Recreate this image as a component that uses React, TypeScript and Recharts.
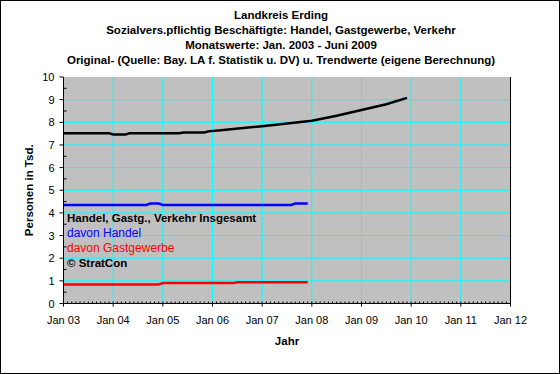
import React from "react";
import {
  LineChart,
  Line,
  XAxis,
  YAxis,
  ReferenceLine,
  ReferenceArea,
  Label,
} from "recharts";

// Month index: 0 = Jan 2003
const totalMonths = [0, 11, 12, 15, 16, 28, 29, 34, 35, 38, 41, 48, 54, 60, 66, 72, 78, 83];
const totalValues = [7.52, 7.52, 7.46, 7.46, 7.52, 7.52, 7.55, 7.55, 7.6, 7.65, 7.7, 7.83, 7.95, 8.07, 8.29, 8.54, 8.8, 9.08];

const handelMonths = [0, 20, 21, 23, 24, 55, 56, 59];
const handelValues = [4.35, 4.35, 4.41, 4.41, 4.35, 4.35, 4.41, 4.41];

const gastMonths = [0, 23, 24, 41, 42, 59];
const gastValues = [0.84, 0.84, 0.9, 0.9, 0.94, 0.94];

const xTickLabels = ["Jan 03", "Jan 04", "Jan 05", "Jan 06", "Jan 07", "Jan 08", "Jan 09", "Jan 10", "Jan 11", "Jan 12"];
const yMajorTicks = [0, 1, 2, 3, 4, 5, 6, 7, 8, 9, 10];
const yMinorTicks = [0.5, 1.5, 2.5, 3.5, 4.5, 5.5, 6.5, 7.5, 8.5, 9.5];
const xGridYears = [12, 24, 36, 48, 60, 72, 84, 96];
const yGridValues = [1, 2, 3, 4, 5, 6, 7, 8, 9];

const titleLines = [
  "Landkreis Erding",
  "Sozialvers.pflichtig Beschäftigte: Handel, Gastgewerbe, Verkehr",
  "Monatswerte: Jan. 2003 - Juni 2009",
  "Original- (Quelle: Bay. LA f. Statistik u. DV) u. Trendwerte (eigene Berechnung)",
];

const legendItems = [
  { text: "Handel, Gastg., Verkehr Insgesamt", color: "#000000", bold: true },
  { text: "davon Handel", color: "#0000ff", bold: false },
  { text: "davon Gastgewerbe", color: "#ff0000", bold: false },
  { text: "© StratCon", color: "#000000", bold: true },
];

const toData = (ms: number[], vs: number[]) => ms.map((m, i) => ({ m, v: vs[i] }));
const totalData = toData(totalMonths, totalValues);
const handelData = toData(handelMonths, handelValues);
const gastData = toData(gastMonths, gastValues);

const yTicks = [...yMajorTicks, ...yMinorTicks].sort((a, b) => a - b);
const xTicks = Array.from({ length: 109 }, (_, i) => i);

const FONT = "'Liberation Sans', Arial, sans-serif";

const LeftTick = (props: any) => {
  const { x, y, payload } = props;
  const v = payload.value;
  const major = Number.isInteger(v);
  return (
    <g>
      {major ? (
        <line x1={x - 4} x2={x} y1={y} y2={y} stroke="#000" />
      ) : (
        <line x1={x} x2={x + 3} y1={y} y2={y} stroke="#000" />
      )}
      {major && (
        <text x={x - 9} y={y} textAnchor="end" dominantBaseline="central" fontSize={11} fontFamily={FONT} fill="#000">
          {v}
        </text>
      )}
    </g>
  );
};

const RightTick = (props: any) => {
  const { x, y, payload } = props;
  const v = payload.value;
  const major = Number.isInteger(v);
  return (
    <g>
      {major ? (
        <line x1={x} x2={x + 4} y1={y} y2={y} stroke="#000" />
      ) : (
        <line x1={x - 3} x2={x} y1={y} y2={y} stroke="#000" />
      )}
      {major && (
        <text x={x + 7} y={y} textAnchor="start" dominantBaseline="central" fontSize={11} fontFamily={FONT} fill="#000">
          {v}
        </text>
      )}
    </g>
  );
};

const BottomTick = (props: any) => {
  const { x, y, payload } = props;
  const v = payload.value;
  const major = v % 12 === 0;
  return (
    <g>
      {major ? (
        <line x1={x} x2={x} y1={y - 2} y2={y + 3} stroke="#000" />
      ) : (
        <line x1={x} x2={x} y1={y - 2} y2={y} stroke="#000" />
      )}
      {major && (
        <text x={x} y={y + 16} textAnchor="middle" dominantBaseline="central" fontSize={11} fontFamily={FONT} fill="#000">
          {xTickLabels[v / 12]}
        </text>
      )}
    </g>
  );
};

export default function App() {
  return (
    <div style={{ position: "absolute", left: 0, top: 0, width: 560, height: 374, background: "#fff", fontFamily: FONT }}>
      <LineChart width={560} height={374} margin={{ top: 77, right: 0, bottom: 0, left: 0 }}>
        <XAxis
          dataKey="m"
          type="number"
          domain={[0, 108]}
          ticks={xTicks}
          interval={0}
          tickSize={0}
          tickMargin={0}
          tickLine={false}
          tick={<BottomTick />}
          height={70.5}
          axisLine={{ stroke: "#000" }}
          allowDataOverflow
        >
          <Label
            content={(p: any) => {
              const vb = p.viewBox || {};
              return (
                <text x={vb.x + vb.width / 2} y={vb.y + 37} textAnchor="middle" dominantBaseline="central" fontSize={11.5} fontWeight="bold" fontFamily={FONT} fill="#000">
                  Jahr
                </text>
              );
            }}
          />
        </XAxis>
        <YAxis
          yAxisId="left"
          orientation="left"
          type="number"
          domain={[0, 10]}
          ticks={yTicks}
          interval={0}
          width={63.5}
          tickSize={0}
          tickMargin={0}
          tickLine={false}
          tick={<LeftTick />}
          axisLine={{ stroke: "#000" }}
        >
          <Label
            content={(p: any) => {
              const vb = p.viewBox || {};
              const cx = vb.x + 29;
              const cy = vb.y + vb.height / 2;
              return (
                <text x={cx} y={cy} transform={`rotate(-90 ${cx} ${cy})`} textAnchor="middle" dominantBaseline="central" fontSize={11.5} fontWeight="bold" fontFamily={FONT} fill="#000">
                  Personen in Tsd.
                </text>
              );
            }}
          />
        </YAxis>
        <YAxis
          yAxisId="right"
          orientation="right"
          type="number"
          domain={[0, 10]}
          ticks={yTicks}
          interval={0}
          width={49.5}
          tickSize={0}
          tickMargin={0}
          tickLine={false}
          tick={<RightTick />}
          axisLine={{ stroke: "#000" }}
        />
        <ReferenceArea yAxisId="left" x1={0} x2={108} y1={0} y2={10} fill="#c0c0c0" fillOpacity={1} stroke="none" />
        {xGridYears.map((m) => (
          <ReferenceLine key={"vx" + m} yAxisId="left" x={m} stroke="#00ffff" strokeWidth={1} />
        ))}
        {yGridValues.map((v) => (
          <ReferenceLine key={"hy" + v} yAxisId="left" y={v} stroke="#00ffff" strokeWidth={1} />
        ))}
        <Line yAxisId="left" data={totalData} dataKey="v" type="linear" stroke="#000000" strokeWidth={2.5} dot={false} isAnimationActive={false} />
        <Line yAxisId="left" data={handelData} dataKey="v" type="linear" stroke="#0000ff" strokeWidth={2.5} dot={false} isAnimationActive={false} />
        <Line yAxisId="left" data={gastData} dataKey="v" type="linear" stroke="#ff0000" strokeWidth={2.5} dot={false} isAnimationActive={false} />
      </LineChart>

      {titleLines.map((t, i) => (
        <div
          key={t}
          style={{
            position: "absolute",
            left: 0,
            width: 562,
            top: 15 + i * 15 - 8,
            height: 16,
            lineHeight: "16px",
            textAlign: "center",
            fontSize: 11.5,
            fontWeight: "bold",
            color: "#000",
            whiteSpace: "nowrap",
          }}
        >
          {t}
        </div>
      ))}

      {legendItems.map((it, i) => (
        <div
          key={it.text}
          style={{
            position: "absolute",
            left: 67,
            top: 218 + i * 15 - 8,
            height: 16,
            lineHeight: "16px",
            fontSize: it.bold ? 11.5 : 12,
            fontWeight: it.bold ? "bold" : "normal",
            color: it.color,
            whiteSpace: "nowrap",
          }}
        >
          {it.text}
        </div>
      ))}

      <div
        style={{
          position: "absolute",
          left: 0,
          top: 0,
          width: 560,
          height: 374,
          boxSizing: "border-box",
          border: "1px solid #000",
          pointerEvents: "none",
        }}
      />
    </div>
  );
}
